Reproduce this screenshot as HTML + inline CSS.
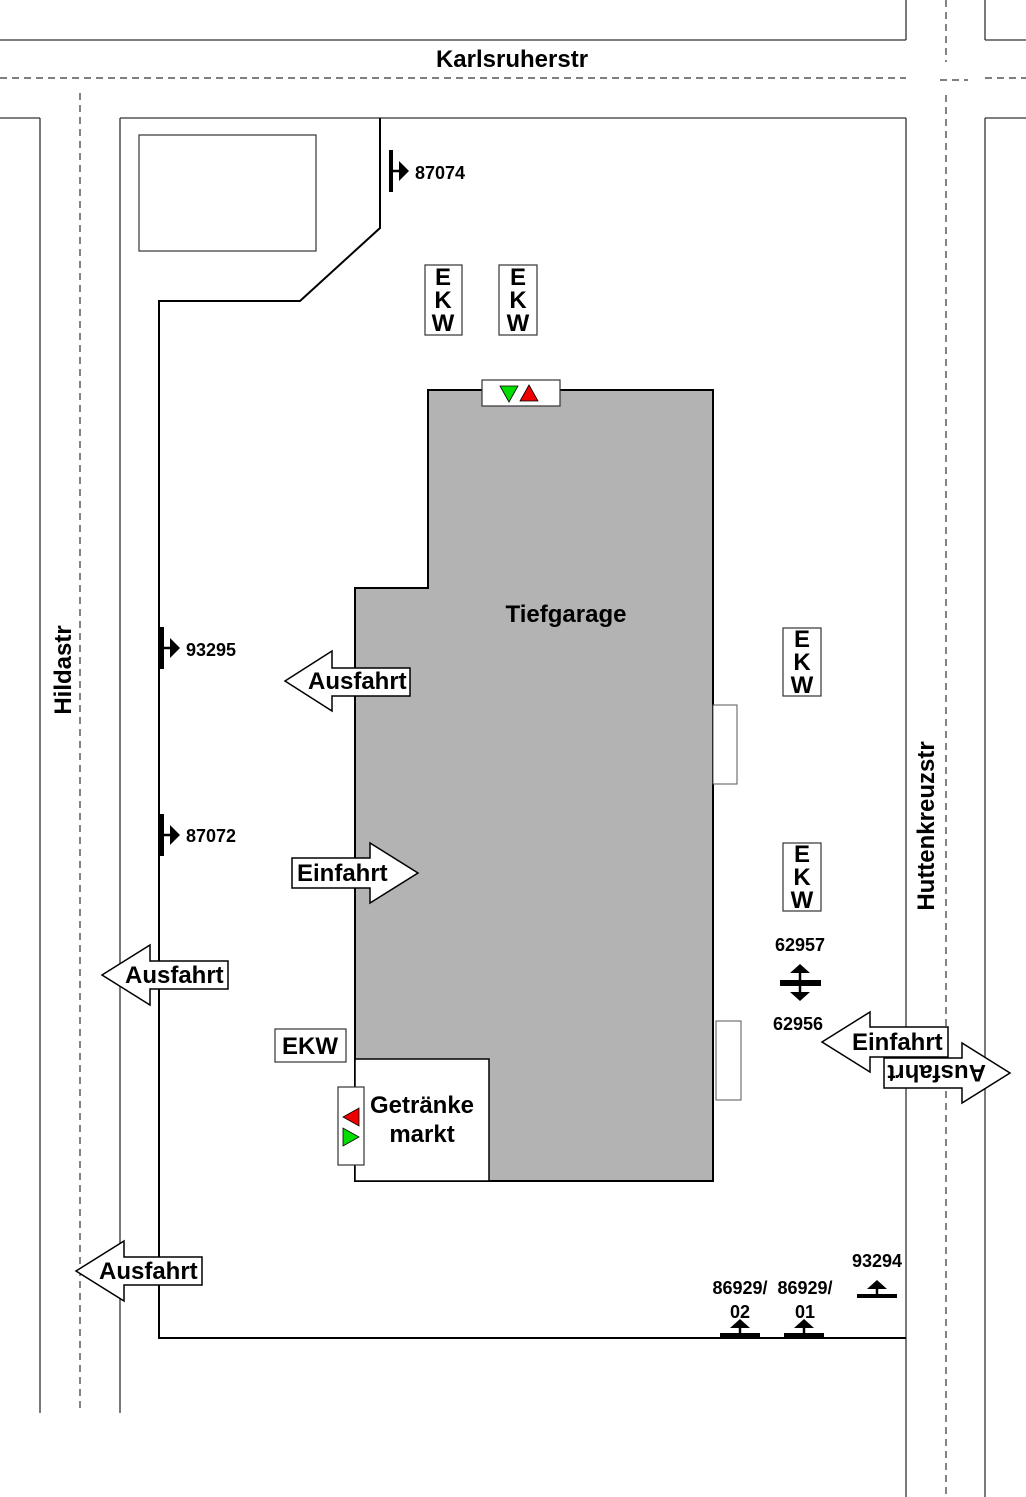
<!DOCTYPE html>
<html><head><meta charset="utf-8"><style>
html,body{margin:0;padding:0;background:#fff;}
svg{display:block;}
text{font-family:"Liberation Sans",Arial,sans-serif;font-weight:bold;fill:#000;}
</style></head><body>
<svg width="1026" height="1497" viewBox="0 0 1026 1497" xmlns="http://www.w3.org/2000/svg">
<defs>
<g id="ha"><rect x="-2" y="-21" width="4" height="42" fill="#000"/><line x1="0" y1="0" x2="10" y2="0" stroke="#000" stroke-width="2.5"/><polygon points="8,-10 18,0 8,10" fill="#000"/></g>
<g id="up"><rect x="-20" y="0" width="40" height="4" fill="#000"/><line x1="0" y1="0" x2="0" y2="-6" stroke="#000" stroke-width="2.5"/><polygon points="-10,-5 10,-5 0,-14" fill="#000"/></g>
</defs>
<g fill="none" stroke="#333" stroke-width="1.3">
<line x1="0" y1="40" x2="906" y2="40"/>
<line x1="906" y1="0" x2="906" y2="40"/>
<line x1="985" y1="0" x2="985" y2="40"/>
<line x1="985" y1="40" x2="1026" y2="40"/>
<line x1="0" y1="118" x2="40" y2="118"/>
<line x1="120" y1="118" x2="906" y2="118"/>
<line x1="985" y1="118" x2="1026" y2="118"/>
<line x1="40" y1="118" x2="40" y2="1413"/>
<line x1="120" y1="118" x2="120" y2="1413"/>
<line x1="906" y1="118" x2="906" y2="1497"/>
<line x1="985" y1="118" x2="985" y2="1497"/>
</g>
<g fill="none" stroke="#333" stroke-width="1.2" stroke-dasharray="7,5">
<line x1="0" y1="78" x2="906" y2="78"/>
<line x1="940" y1="80" x2="968" y2="80"/>
<line x1="985" y1="78" x2="1026" y2="78"/>
<line x1="946" y1="0" x2="946" y2="62"/>
<line x1="946" y1="95" x2="946" y2="1497"/>
<line x1="80" y1="93" x2="80" y2="1413"/>
</g>
<polyline points="380,118 380,228 300,301 159,301 159,1338 906,1338" fill="none" stroke="#000" stroke-width="2"/>
<rect x="139" y="135" width="177" height="116" fill="none" stroke="#333" stroke-width="1.2"/>
<polygon points="428,390 713,390 713,1181 355,1181 355,588 428,588" fill="#b3b3b3" stroke="#000" stroke-width="2"/>
<rect x="355" y="1059" width="134" height="122" fill="#fff" stroke="#000" stroke-width="1.5"/>
<rect x="713" y="705" width="24" height="79" fill="#fff" stroke="#555" stroke-width="1"/>
<rect x="716" y="1021" width="25" height="79" fill="#fff" stroke="#555" stroke-width="1"/>
<rect x="482" y="380" width="78" height="26" fill="#fff" stroke="#333" stroke-width="1.2"/>
<polygon points="500,386 518,386 509,402" fill="#00dd00" stroke="#000" stroke-width="0.8"/>
<polygon points="520,401 538,401 529,385" fill="#ee0000" stroke="#000" stroke-width="0.8"/>
<rect x="338" y="1087" width="26" height="78" fill="#fff" stroke="#333" stroke-width="1.2"/>
<polygon points="359,1108 359,1126 343,1117" fill="#ee0000" stroke="#000" stroke-width="0.8"/>
<polygon points="343,1128 343,1146 359,1137" fill="#00dd00" stroke="#000" stroke-width="0.8"/>
<text x="422" y="1113" font-size="24" text-anchor="middle">Getränke</text>
<text x="422" y="1142" font-size="24" text-anchor="middle">markt</text>
<text x="566" y="622" font-size="24" text-anchor="middle">Tiefgarage</text>
<g fill="#fff" stroke="#333" stroke-width="1.2">
<rect x="425" y="265" width="37" height="70"/><rect x="499" y="265" width="38" height="70"/>
<rect x="783" y="628" width="38" height="68"/><rect x="783" y="843" width="38" height="68"/>
<rect x="275" y="1029" width="71" height="33"/>
</g>
<g font-size="24" text-anchor="middle">
<text x="443" y="285">E</text><text x="443" y="308">K</text><text x="443" y="331">W</text>
<text x="518" y="285">E</text><text x="518" y="308">K</text><text x="518" y="331">W</text>
<text x="802" y="647">E</text><text x="802" y="670">K</text><text x="802" y="693">W</text>
<text x="802" y="862">E</text><text x="802" y="885">K</text><text x="802" y="908">W</text>
<text x="310" y="1054">EKW</text>
</g>
<g fill="#fff" stroke="#000" stroke-width="1.5">
<polygon points="285,681 332,651 332,668 410,668 410,696 332,696 332,711"/>
<polygon points="418,873 370,843 370,858 292,858 292,888 370,888 370,903"/>
<polygon points="102,975 150,945 150,961 228,961 228,989 150,989 150,1005"/>
<polygon points="76,1271 124,1241 124,1257 202,1257 202,1285 124,1285 124,1301"/>
<polygon points="822,1042 870,1012 870,1027 948,1027 948,1057 870,1057 870,1072"/>
<polygon points="1010,1073 962,1043 962,1058 884,1058 884,1088 962,1088 962,1103"/>
</g>
<g font-size="24">
<text x="308" y="689">Ausfahrt</text>
<text x="297" y="881">Einfahrt</text>
<text x="125" y="983">Ausfahrt</text>
<text x="99" y="1279">Ausfahrt</text>
<text x="852" y="1050">Einfahrt</text>
<text x="0" y="0" transform="translate(986,1065) rotate(180)">Ausfahrt</text>
<text x="512" y="67" text-anchor="middle">Karlsruherstr</text>
<text x="0" y="0" text-anchor="middle" transform="translate(71,670) rotate(-90)">Hildastr</text>
<text x="0" y="0" text-anchor="middle" transform="translate(934,826) rotate(-90)">Huttenkreuzstr</text>
</g>
<use href="#ha" x="391" y="171"/>
<use href="#ha" x="162" y="648"/>
<use href="#ha" x="162" y="835"/>
<g font-size="18">
<text x="415" y="179">87074</text>
<text x="186" y="656">93295</text>
<text x="186" y="842">87072</text>
<text x="800" y="951" text-anchor="middle">62957</text>
<text x="798" y="1030" text-anchor="middle">62956</text>
<text x="877" y="1267" text-anchor="middle">93294</text>
<text x="740" y="1294" text-anchor="middle">86929/</text>
<text x="740" y="1318" text-anchor="middle">02</text>
<text x="805" y="1294" text-anchor="middle">86929/</text>
<text x="805" y="1318" text-anchor="middle">01</text>
</g>
<use href="#up" x="877" y="1294"/>
<use href="#up" x="740" y="1333"/>
<use href="#up" x="804" y="1333"/>
<rect x="780" y="980" width="41" height="6" fill="#000"/>
<line x1="800" y1="970" x2="800" y2="995" stroke="#000" stroke-width="2.5"/>
<polygon points="790,973 810,973 800,964" fill="#000"/>
<polygon points="790,992 810,992 800,1001" fill="#000"/>
</svg>
</body></html>
